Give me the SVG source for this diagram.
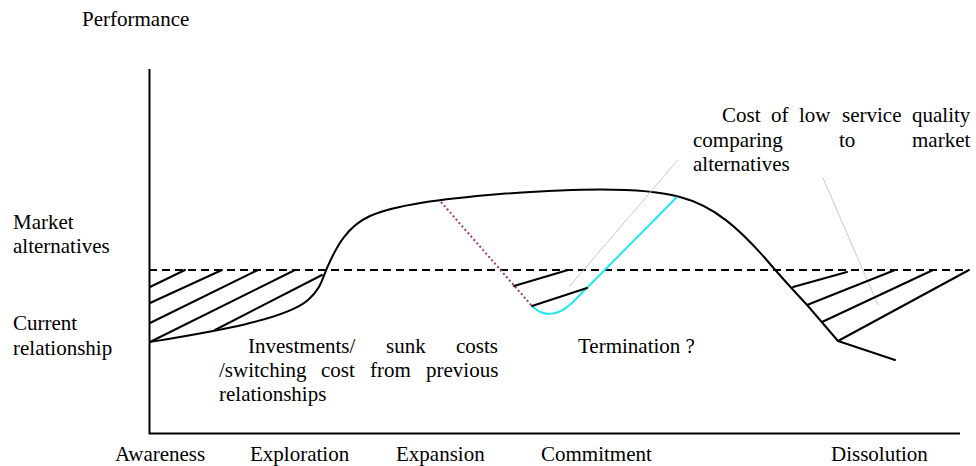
<svg xmlns="http://www.w3.org/2000/svg" width="976" height="466" viewBox="0 0 976 466">
<style>
text{font-family:"Liberation Serif","Times New Roman",serif;font-size:21px;fill:#000}
.ln{fill:none;stroke:#000;stroke-width:2;stroke-linecap:round;stroke-linejoin:round}
.ax{fill:none;stroke:#000;stroke-width:2}
.dash{fill:none;stroke:#000;stroke-width:2;stroke-dasharray:8 5}
.gray{fill:none;stroke:#c8c8c8;stroke-width:1}
</style>
<rect width="976" height="466" fill="#fff"/>
<g id="axes">
<path class="ax" d="M149.5,69 V433.5 H960"/>
</g>
<g id="market-line">
<path class="dash" d="M149,270 H969"/>
</g>
<g id="connectors">
<path class="ln" d="M150,342 C210,332 285,320 308,300 C320,290 322,280 327,268 C337,245 348,226 370,216 C395,205 440,199 500,194 C570,189 640,186 680,197 C715,206 740,230 765,258 C780,276 795,292 808,306 L838,341 L895,360"/>
<path fill="none" stroke="#1ee8f0" stroke-width="2" d="M532,306 C542,316 556,318 572,303 L677,197"/>
<path fill="none" stroke="#a03a6e" stroke-width="2" stroke-dasharray="2 2.5" d="M441,202 L532,306"/>
<path class="gray" d="M569,287 L678,160"/>
<path class="gray" d="M823,178 L878,305"/>
</g>
<g id="hatch-left">
<path class="ln" d="M150,287 L185,270 M150,303 L222,270 M150,323 L258,270 M150,342 L295,270 M215,330 L322,275"/>
</g>
<g id="hatch-mid">
<path class="ln" d="M514,286 L568,270 M532,306 L587,288"/>
</g>
<g id="hatch-right">
<path class="ln" d="M793,287 L847,272 M807,305 L895,270 M822,322 L933,270 M838,341 L969,270"/>
</g>
<g id="labels">
<text x="82" y="26">Performance</text>
<text x="13" y="229">Market</text>
<text x="13" y="253">alternatives</text>
<text x="13" y="330">Current</text>
<text x="13" y="355">relationship</text>
<text y="353"><tspan x="248">Investments/</tspan><tspan x="386">sunk</tspan><tspan x="456">costs</tspan></text>
<text y="377"><tspan x="219">/switching</tspan><tspan x="321">cost</tspan><tspan x="370">from</tspan><tspan x="426">previous</tspan></text>
<text x="219" y="401">relationships</text>
<text x="578" y="353">Termination ?</text>
<text y="122"><tspan x="722">Cost</tspan><tspan x="771">of</tspan><tspan x="799">low</tspan><tspan x="842">service</tspan><tspan x="912">quality</tspan></text>
<text y="147"><tspan x="693">comparing</tspan><tspan x="839">to</tspan><tspan x="912">market</tspan></text>
<text x="693" y="171">alternatives</text>
<text x="115" y="461">Awareness</text>
<text x="250" y="461">Exploration</text>
<text x="396" y="461">Expansion</text>
<text x="541" y="461">Commitment</text>
<text x="831" y="461">Dissolution</text>
</g>
</svg>
